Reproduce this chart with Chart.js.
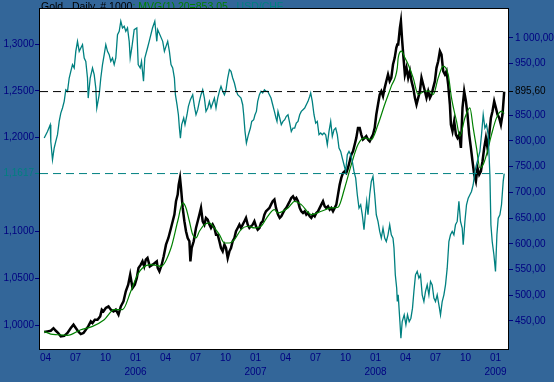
<!DOCTYPE html>
<html>
<head>
<meta charset="utf-8">
<script src="https://cdn.jsdelivr.net/npm/chart.js@4"></script>
<style>
  html, body { margin: 0; padding: 0; background: #336699; }
  canvas { display: block; }
</style>
</head>
<body>
<canvas id="chart" width="554" height="382"></canvas>
<script>
// time axis: months counted from 1 Jan 2005
const chfMonths = [2.87,3.2,3.47,3.53,3.7,3.87,4.03,4.2,4.37,4.53,4.7,4.87,5.03,5.2,5.37,5.53,5.7,5.87,6.03,6.2,6.37,6.53,6.7,6.87,7.03,7.2,7.27,7.47,7.7,7.87,8.03,8.13,8.37,8.53,8.7,8.87,9.03,9.2,9.37,9.53,9.7,9.87,10.03,10.2,10.37,10.53,10.7,10.87,11.03,11.2,11.37,11.47,11.63,11.87,12.13,12.27,12.47,12.6,12.8,12.93,13.2,13.37,13.7,13.93,14.13,14.22,14.72,14.89,15.05,15.22,15.39,15.55,15.72,15.89,15.99,16.15,16.29,16.39,16.49,16.62,16.82,16.95,17.15,17.29,17.49,17.72,17.89,18.05,18.22,18.39,18.55,18.72,18.89,19.05,19.22,19.39,19.55,19.72,19.89,20.05,20.22,20.39,20.55,20.72,20.89,21.05,21.22,21.39,21.55,21.72,21.89,22.05,22.22,22.39,22.55,22.72,22.82,22.95,23.09,23.29,23.49,23.62,23.82,23.95,24.09,24.22,24.39,24.55,24.72,24.89,25.05,25.22,25.39,25.55,25.72,25.89,26.05,26.15,26.25,26.42,26.58,26.75,26.92,27.08,27.25,27.42,27.58,27.75,27.92,28.08,28.25,28.42,28.58,28.75,28.92,29.08,29.25,29.42,29.52,29.68,29.85,30.02,30.18,30.35,30.52,30.68,30.85,31.02,31.18,31.35,31.52,31.68,31.85,32.02,32.18,32.35,32.52,32.68,32.85,33.02,33.18,33.35,33.52,33.68,33.85,34.02,34.18,34.35,34.52,34.68,34.85,34.98,35.12,35.25,35.42,35.58,35.75,35.92,36.08,36.25,36.42,36.58,36.75,36.92,37.08,37.25,37.42,37.58,37.75,37.85,37.98,38.12,38.18,38.27,38.44,38.54,38.67,38.87,39.04,39.2,39.37,39.54,39.7,39.84,40.0,40.17,40.34,40.5,40.67,40.84,41.0,41.17,41.34,41.5,41.67,41.84,42.0,42.17,42.34,42.5,42.67,42.84,43.0,43.17,43.34,43.5,43.67,43.84,44.0,44.17,44.34,44.5,44.67,44.77,44.94,45.1,45.27,45.44,45.6,45.77,45.94,46.1,46.27,46.44,46.6,46.77,46.94,47.1,47.27,47.44,47.54,47.67,47.84,48.0,48.14,48.27,48.44,48.6,48.77,48.87];
const chfValues = [1.1996,1.2067,1.2138,1.196,1.1765,1.189,1.196,1.2032,1.2174,1.2263,1.2317,1.2388,1.2512,1.2495,1.2637,1.2708,1.278,1.2744,1.2922,1.3029,1.2922,1.2958,1.2993,1.2851,1.2815,1.2637,1.2423,1.2637,1.2744,1.2673,1.253,1.2317,1.2459,1.2637,1.278,1.2886,1.2993,1.2922,1.2886,1.2815,1.2851,1.278,1.2851,1.31,1.3136,1.3243,1.3171,1.3189,1.3136,1.3171,1.3029,1.2851,1.2958,1.3153,1.3171,1.278,1.2744,1.2815,1.2602,1.2851,1.2958,1.3029,1.3171,1.3243,1.3029,1.3154,1.3029,1.2922,1.2975,1.3029,1.2922,1.278,1.2744,1.2637,1.2459,1.2352,1.2245,1.2103,1.1996,1.2139,1.221,1.2139,1.2245,1.2334,1.2406,1.2459,1.2334,1.2245,1.2299,1.2388,1.2459,1.2512,1.2423,1.2281,1.2317,1.2388,1.2317,1.237,1.2423,1.2317,1.2423,1.2495,1.2548,1.2495,1.2459,1.2512,1.2637,1.2726,1.2708,1.2637,1.2584,1.2512,1.2459,1.2441,1.2423,1.2352,1.2245,1.2067,1.1943,1.2032,1.2103,1.2174,1.2192,1.2245,1.2281,1.2388,1.2459,1.2495,1.2477,1.2512,1.2495,1.2495,1.2459,1.2423,1.2352,1.2281,1.221,1.2174,1.228,1.221,1.2139,1.2174,1.2192,1.2228,1.2245,1.2156,1.2067,1.2103,1.2103,1.2156,1.2174,1.2245,1.2281,1.2299,1.2317,1.2352,1.2388,1.2441,1.2477,1.2388,1.2245,1.2156,1.2174,1.2032,1.205,1.2032,1.205,1.2032,1.1925,1.2067,1.2174,1.2014,1.2085,1.2103,1.2032,1.1889,1.1854,1.1782,1.1711,1.164,1.1818,1.1854,1.1818,1.1747,1.164,1.1569,1.1391,1.1248,1.1284,1.1177,1.1017,1.1177,1.132,1.1177,1.1391,1.1533,1.1587,1.1391,1.1177,1.1106,1.0999,1.0928,1.1035,1.0928,1.0892,1.0963,1.107,1.0963,1.0928,1.0821,1.0536,1.0393,1.0251,1.0322,1.0037,0.9859,1.0037,1.0109,1.0002,1.0109,1.0037,1.0073,1.018,1.0358,1.0536,1.0572,1.05,1.0536,1.0322,1.0251,1.0358,1.0429,1.0322,1.0465,1.0429,1.0287,1.0251,1.0322,1.0216,1.0109,1.0251,1.0322,1.0429,1.0607,1.0892,1.0963,1.0999,1.0963,1.107,1.1106,1.132,1.1106,1.1035,1.0857,1.1106,1.1284,1.1355,1.1391,1.1426,1.1498,1.164,1.1711,1.1782,1.1854,1.2032,1.2245,1.2103,1.2139,1.2032,1.1604,1.107,1.0892,1.075,1.0572,1.0963,1.1141,1.1177,1.1284,1.1533,1.1617];

const goldMonths = [2.87,3.2,3.53,3.8,4.03,4.27,4.53,4.87,5.2,5.53,5.8,6.03,6.27,6.53,6.8,7.03,7.27,7.53,7.7,7.93,8.2,8.47,8.63,8.8,9.03,9.3,9.53,9.8,10.03,10.3,10.53,10.8,11.03,11.27,11.47,11.7,11.93,12.13,12.3,12.53,12.7,12.87,13.03,13.2,13.43,13.7,13.93,14.13,14.22,14.39,14.62,14.82,15.05,15.29,15.55,15.72,15.89,16.05,16.22,16.32,16.45,16.55,16.72,16.89,17.05,17.22,17.39,17.49,17.62,17.82,18.05,18.22,18.39,18.55,18.72,18.89,19.05,19.22,19.39,19.55,19.72,19.89,20.05,20.22,20.39,20.55,20.72,20.89,21.05,21.22,21.39,21.55,21.72,21.89,22.05,22.22,22.39,22.55,22.72,22.89,23.05,23.22,23.39,23.55,23.72,23.89,24.05,24.22,24.39,24.55,24.72,24.89,25.05,25.22,25.39,25.55,25.72,25.89,26.05,26.15,26.25,26.42,26.58,26.75,26.92,27.08,27.25,27.42,27.58,27.75,27.92,28.08,28.25,28.42,28.58,28.75,28.92,29.08,29.25,29.42,29.58,29.75,29.92,30.08,30.25,30.42,30.58,30.75,30.92,31.08,31.25,31.42,31.58,31.75,31.92,32.08,32.25,32.42,32.58,32.75,32.92,33.08,33.25,33.42,33.58,33.75,33.92,34.08,34.25,34.42,34.58,34.75,34.92,35.08,35.25,35.42,35.58,35.75,35.92,36.08,36.25,36.42,36.58,36.75,36.92,37.08,37.25,37.42,37.58,37.75,37.92,38.08,38.18,38.27,38.44,38.54,38.67,38.8,38.94,39.1,39.27,39.44,39.6,39.77,39.94,40.1,40.27,40.44,40.6,40.77,40.94,41.1,41.27,41.44,41.6,41.77,41.94,42.1,42.27,42.44,42.6,42.77,42.94,43.1,43.27,43.44,43.54,43.7,43.87,44.04,44.2,44.37,44.54,44.7,44.87,45.04,45.2,45.37,45.54,45.7,45.87,46.04,46.2,46.37,46.54,46.7,46.87,47.04,47.2,47.37,47.54,47.7,47.87,48.04,48.2,48.37,48.54,48.7,48.87];
const goldValues = [428.5,429.8,431,436,431,426.6,420,421,426.6,436.3,442.8,436.3,429.8,424.6,426.6,433,439.5,449.3,446,452.5,452.5,459,472,468.7,475.2,478.4,472,468.7,472,462.2,478.4,488.2,507.6,520.5,540,514,520.5,533.5,553,559.4,565.9,556,569,572.4,556,559.4,562.6,565.9,553,546.5,559.4,575.6,598.3,611.3,630.7,643.7,656.6,682.5,695.5,714.9,727.9,708.4,669.6,643.7,624.2,611.3,604.8,565.9,591.8,604.8,630.7,643.7,656.6,669.6,643.7,637.2,650.1,646.9,637.2,630.7,637.2,630.7,617.7,617.7,604.8,591.8,585.3,598.3,591.8,572.4,585.3,591.8,604.8,611.3,624.2,630.7,637.2,630.7,637.2,643.7,650.1,637.2,630.7,634,637.2,643.7,634,627.5,630.7,640.4,643.7,656.6,663.1,666.3,669.6,676,682.5,685.8,669.6,663.1,656.6,650.1,653.4,659.9,666.3,669.6,676,682.5,689,692.2,685.8,689,682.5,669.6,663.1,659.9,663.1,656.6,659.9,653.4,650.1,656.6,653.4,659.9,663.1,669.6,676,682.5,672.8,669.6,672.8,666.3,669.6,663.1,669.6,676,695.5,714.9,727.9,737.6,740.8,737.6,747.3,760.3,773.2,779.7,792.7,805.6,825.1,825.1,812.1,802.4,805.6,808.9,802.4,799.1,805.6,812.1,825.1,851,870.4,889.9,896.3,886.6,902.8,915.8,928.7,915.8,922.2,948.2,961.1,980.6,987,987,1019.4,1032.4,993.5,961.1,928.7,941.7,922.2,935.2,915.8,902.8,883.4,870.4,883.4,896.3,922.2,909.3,896.3,883.4,896.3,883.4,889.9,902.8,915.8,941.7,954.6,974.1,967.6,935.2,928.7,935.2,909.3,870.4,831.5,818.6,838,812.1,805.6,812.1,786.2,863.9,896.3,876.9,851,812.1,786.2,760.3,734.4,721.4,747.3,734.4,740.8,760.3,786.2,805.6,786.2,812.1,844.5,857.5,876.9,863.9,851,844.5,831.5,851,895.6];

// 20-day moving average of gold (MVG 20)
const maMonths = [2.87,3.53,4.2,5.2,6.53,7.7,8.87,9.87,10.7,11.53,12.2,12.7,13.53,14.13,14.55,15.55,16.22,16.72,17.05,17.39,17.72,18.05,18.39,18.89,19.39,19.89,20.39,20.89,21.39,21.89,22.55,23.22,23.89,24.55,25.22,25.89,26.25,27.25,27.92,28.58,29.58,30.58,31.58,32.25,32.92,33.58,34.25,34.92,35.58,36.25,36.92,37.58,38.18,38.27,38.6,38.94,39.27,39.77,40.27,40.94,41.44,41.77,42.27,42.77,43.27,43.6,44.1,44.44,44.94,45.44,45.77,46.1,46.44,46.77,47.1,47.6,48.1,48.6,48.87];
const maValues = [429.8,424.6,423.3,422,433,439.5,452.5,472,472,507.6,540,553,559.4,558,556.2,591.8,643.7,679.3,669.6,643.7,617.7,611.3,624.2,637.2,640.4,630.7,617.7,601.5,601.5,608,627.5,634,630.7,634,653.4,666.3,659.9,669.6,682.5,676,656.6,663.1,669.6,670.9,708.4,753.8,792.7,805.6,802.4,831.5,870.4,906.1,941.7,961.1,974.1,961.1,948.2,922.2,889.9,896.3,896.3,889.9,922.2,944.9,928.7,883.4,838,808.9,844.5,864,825.1,786.2,747.3,753.8,773.2,812.1,844.5,857.5,853.05];

const lastGold = 895.6;
const lastChf = 1.1617;
const chfTicks = [1.0, 1.05, 1.1, 1.1617, 1.2, 1.25, 1.3];
const goldTicks = [450, 500, 550, 600, 650, 700, 750, 800, 850, 895.6, 950, 1000];
const monthTicks = [3, 6, 9, 12, 15, 18, 21, 24, 27, 30, 33, 36, 39, 42, 45, 48];
const monthLabels = ['01', '04', '07', '10'];
const titleParts = [
  ['Gold . Daily. # 1000', '#000000'],
  ['; MVG(1) 20=853,05', '#008000'],
  [' , USD/CHF', '#008080']
];

const xMin = 2.45, xMax = 49.25;
const navy = '#000080';
const teal = '#008080';
const tickFont = { family: '"Liberation Sans", Arial, sans-serif', size: 10 };

const pts = (xs, ys) => xs.map((x, i) => ({ x: x, y: ys[i] }));

function fmtChf(v) {
  return v.toFixed(4).replace('.', ',');
}
function fmtGold(v) {
  const parts = v.toFixed(2).split('.');
  const int = parts[0].replace(/\B(?=(\d{3})+(?!\d))/g, ' ');
  return int + ',' + parts[1];
}

const frame = {
  id: 'frame',
  beforeDraw(chart) {
    const { ctx, chartArea: a } = chart;
    ctx.save();
    ctx.fillStyle = '#336699';
    ctx.fillRect(0, 0, chart.width, chart.height);
    ctx.font = '10.5px "Liberation Sans", Arial, sans-serif';
    ctx.textBaseline = 'alphabetic';
    let x = 41;
    titleParts.forEach(([text, color]) => {
      ctx.fillStyle = color;
      ctx.fillText(text, x, 9.5);
      x += ctx.measureText(text).width;
    });
    ctx.fillStyle = '#ffffff';
    ctx.fillRect(a.left, a.top, a.right - a.left, a.bottom - a.top);
    ctx.restore();
  },
  afterDraw(chart) {
    const { ctx, chartArea: a } = chart;
    ctx.save();
    ctx.strokeStyle = '#000000';
    ctx.lineWidth = 1;
    ctx.strokeRect(a.left - 0.5, a.top - 0.5, a.right - a.left + 1, a.bottom - a.top + 1);
    ctx.restore();
  }
};

new Chart(document.getElementById('chart'), {
  type: 'line',
  data: {
    datasets: [
      {
        data: [{ x: xMin, y: lastGold }, { x: xMax, y: lastGold }],
        yAxisID: 'gold', borderColor: '#000000', borderWidth: 1, borderDash: [8, 5]
      },
      {
        data: [{ x: xMin, y: lastChf }, { x: xMax, y: lastChf }],
        yAxisID: 'chf', borderColor: teal, borderWidth: 1, borderDash: [8, 5]
      },
      {
        label: 'USD/CHF',
        data: pts(chfMonths, chfValues),
        yAxisID: 'chf', borderColor: teal, borderWidth: 1.3
      },
      {
        label: 'MVG(1) 20',
        data: pts(maMonths, maValues),
        yAxisID: 'gold', borderColor: '#008000', borderWidth: 1.2, cubicInterpolationMode: 'monotone'
      },
      {
        label: 'Gold',
        data: pts(goldMonths, goldValues),
        yAxisID: 'gold', borderColor: '#000000', borderWidth: 2.5
      }
    ]
  },
  options: {
    responsive: false,
    animation: false,
    events: [],
    layout: { padding: { top: 9, left: 0, right: 0, bottom: 0 } },
    elements: { point: { radius: 0 }, line: { tension: 0 } },
    plugins: { legend: { display: false }, tooltip: { enabled: false } },
    scales: {
      x: {
        type: 'linear', min: xMin, max: xMax,
        grid: { display: false, drawTicks: false },
        border: { display: false },
        afterBuildTicks: s => { s.ticks = monthTicks.map(v => ({ value: v })); },
        afterFit: s => { s.height = 33; },
        ticks: {
          autoSkip: false, maxRotation: 0, padding: 2,
          color: navy, font: { ...tickFont, lineHeight: 1.4 },
          callback: v => {
            const mi = ((v % 12) + 12) % 12;
            const label = monthLabels[mi / 3];
            return mi === 0 ? [label, String(2005 + v / 12)] : label;
          }
        }
      },
      chf: {
        type: 'linear', position: 'left', min: 0.9744, max: 1.3374,
        border: { display: false },
        grid: {
          drawOnChartArea: false, drawTicks: true, tickLength: 5,
          color: c => (c.tick && c.tick.value === lastChf ? teal : navy)
        },
        afterBuildTicks: s => { s.ticks = chfTicks.map(v => ({ value: v })); },
        afterFit: s => { s.width = 40; },
        ticks: {
          padding: 1, font: tickFont,
          color: c => (c.tick.value === lastChf ? teal : navy),
          callback: v => fmtChf(v)
        }
      },
      gold: {
        type: 'linear', position: 'right', min: 395.6, max: 1056,
        border: { display: false },
        grid: {
          drawOnChartArea: false, drawTicks: true, tickLength: 5,
          color: c => (c.tick && c.tick.value === lastGold ? '#000000' : navy)
        },
        afterBuildTicks: s => { s.ticks = goldTicks.map(v => ({ value: v })); },
        afterFit: s => { s.width = 46; },
        ticks: {
          padding: 2, font: tickFont,
          color: c => (c.tick.value === lastGold ? '#000000' : navy),
          callback: v => fmtGold(v)
        }
      }
    }
  },
  plugins: [frame]
});
</script>
</body>
</html>
